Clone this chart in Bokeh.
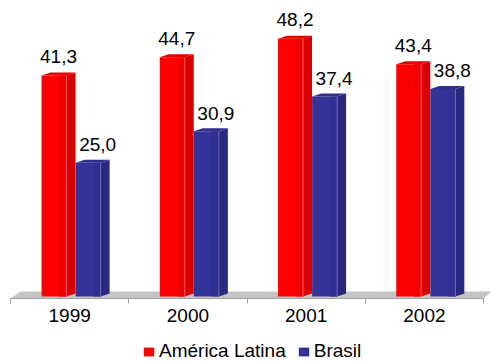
from bokeh.plotting import figure
from bokeh.models import Range1d, FixedTicker, Legend, LegendItem, LinearAxis
from bokeh.embed import file_html
from bokeh.resources import INLINE
from bokeh.core.properties import value

# Data
years = ["1999", "2000", "2001", "2002"]
america_latina = [41.3, 44.7, 48.2, 43.4]
brasil = [25.0, 30.9, 37.4, 38.8]
series_names = ["América Latina", "Brasil"]

FONT = "Liberation Sans"
FONT_SIZE = "19px"

# Bar geometry in category units (one category = 1.0)
FRONT_W = 0.2114
DEPTH_X = 0.076
DEPTH_Y = 0.56
RED_OFFSET = 0.262
BLUE_OFFSET = RED_OFFSET + FRONT_W + DEPTH_X + 0.001
FLOOR_Y = -0.374  # front edge of the floor, where the category axis sits

p = figure(width=492, height=362, output_backend="svg", toolbar_location=None,
           x_range=Range1d(-0.085, 4.076), y_range=Range1d(-12.34, 55.33),
           x_axis_location=None, y_axis_location=None,
           min_border=0)
p.outline_line_color = None
p.grid.visible = False
p.background_fill_color = "white"
p.border_fill_color = "white"

# Floor of the 3D box
p.patch(x=[0, 4, 4.068, 0.085], y=[FLOOR_Y, FLOOR_Y, 0.935, 0.935],
        fill_color="#C4C4C4", line_color=None)


def draw_bars(values, offset, front, shade, side, top, edge):
    n = len(values)
    lefts = [i + offset for i in range(n)]
    rights = [l + FRONT_W for l in lefts]
    r = p.quad(left=lefts, right=rights, bottom=[0] * n, top=values,
               fill_color=front, line_color=None)
    # slightly darker right part of the front face
    p.quad(left=[l + FRONT_W * 0.7 for l in lefts], right=rights,
           bottom=[0] * n, top=values, fill_color=shade, line_color=None)
    p.patches(xs=[[x, x + DEPTH_X, x + DEPTH_X, x] for x in rights],
              ys=[[0, DEPTH_Y, v + DEPTH_Y, v] for v in values],
              fill_color=side, line_color=None)
    p.patches(xs=[[l, l + DEPTH_X, x + DEPTH_X, x] for l, x in zip(lefts, rights)],
              ys=[[v, v + DEPTH_Y, v + DEPTH_Y, v] for v in values],
              fill_color=top, line_color=None)
    p.segment(x0=rights, y0=[0] * n, x1=rights, y1=values,
              line_color=edge, line_width=1)
    return r, [l + (FRONT_W + DEPTH_X) / 2 for l in lefts]


red_r, red_cx = draw_bars(america_latina, RED_OFFSET,
                          "#FF0000", "#F20000", "#D80000", "#E60000", "#FF5A5A")
blue_r, blue_cx = draw_bars(brasil, BLUE_OFFSET,
                            "#333399", "#303092", "#292980", "#2E2E8C", "#6A6AB0")


def fmt(v):
    return f"{v:.1f}".replace(".", ",")


p.text(x=red_cx, y=america_latina, text=[fmt(v) for v in america_latina],
       text_align="center", text_baseline="alphabetic", y_offset=-19,
       text_font=value(FONT), text_font_size=FONT_SIZE, text_color="black")
p.text(x=blue_cx, y=brasil, text=[fmt(v) for v in brasil],
       text_align="center", text_baseline="alphabetic", y_offset=-18, x_offset=5,
       text_font=value(FONT), text_font_size=FONT_SIZE, text_color="black")

# Category axis on the floor edge: labels centred, ticks on the boundaries
centers = [i + 0.5 for i in range(len(years))]
xaxis = LinearAxis(
    fixed_location=FLOOR_Y,
    ticker=FixedTicker(ticks=centers, minor_ticks=list(range(len(years) + 1))),
    major_label_overrides={c: y for c, y in zip(centers, years)},
    bounds=(0, len(years)),
    axis_line_color="#A0A0A0", axis_line_width=1,
    major_tick_in=0, major_tick_out=0,
    minor_tick_in=0, minor_tick_out=5, minor_tick_line_color="#A0A0A0",
    major_label_standoff=6,
    major_label_text_font=FONT, major_label_text_font_size=FONT_SIZE,
    major_label_text_color="black",
)
p.add_layout(xaxis, "below")

legend = Legend(
    items=[LegendItem(label=series_names[0], renderers=[red_r]),
           LegendItem(label=series_names[1], renderers=[blue_r])],
    location=(142, 0), orientation="horizontal",
    glyph_width=13, glyph_height=11, label_standoff=4, spacing=11,
    padding=0, margin=0, border_line_color=None, background_fill_alpha=0,
    label_text_font=FONT, label_text_font_size=FONT_SIZE, label_text_color="black",
)
p.add_layout(legend, "center")

open("out.html", "w").write(file_html(p, INLINE))
